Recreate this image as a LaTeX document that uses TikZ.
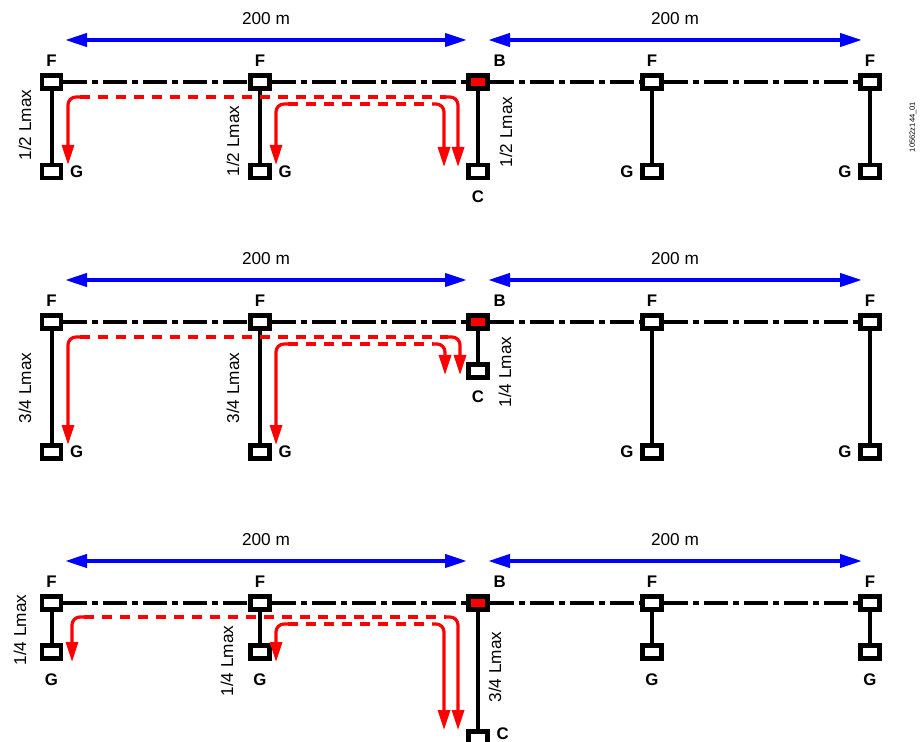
\documentclass[tikz,border=0pt]{standalone}
\usepackage{fontspec}
\setmainfont{Liberation Sans}
\usetikzlibrary{arrows.meta,positioning,calc}
\definecolor{spanblue}{HTML}{0000FF}
\definecolor{flowred}{HTML}{FF0000}

\begin{document}
\begin{tikzpicture}[
  x=0.5pt, y=-0.5pt,
  font=\fontsize{8.6pt}{10pt}\selectfont,
  dev/.style={draw, line width=2.1pt, fill=white, minimum width=9.5pt,
              minimum height=6.5pt, inner sep=0pt},
  master/.style={dev, fill=flowred},
  tag/.style={font=\fontsize{8.4pt}{10pt}\selectfont\bfseries},
  bus/.style={line width=2pt, dash pattern=on 12pt off 2.5pt on 3pt off 2.5pt},
  drop/.style={line width=2pt},
  span/.style={{Triangle[length=11pt,width=6.5pt]}-{Triangle[length=11pt,width=6.5pt]},
               line width=2pt, draw=spanblue},
  flowdash/.style={draw=flowred, line width=1.6pt, dash pattern=on 5pt off 4pt},
  flowend/.style={draw=flowred, line width=1.6pt, rounded corners=4pt,
                  -{Triangle[length=10pt,width=6pt]}},
  len/.style={rotate=90}
]
\useasboundingbox (0,0) rectangle (924,742);

% row 1: 1/2 Lmax
\node[dev, label={[tag]above:F}] (f11) at (51.5,82) {};
\node[dev, label={[tag]above:F}] (f12) at (260,82) {};
\node[master, label={[tag]above right:B}] (b1) at (478,82) {};
\node[dev, label={[tag]above:F}] (f13) at (652,82) {};
\node[dev, label={[tag]above:F}] (f14) at (870,82) {};
\node[dev, label={[tag]right:G}] (g11) at (51.5,171.5) {};
\node[dev, label={[tag]right:G}] (g12) at (260,171.5) {};
\node[dev, label={[tag,label distance=2pt]below:C}] (c1) at (478,171.5) {};
\node[dev, label={[tag]left:G}] (g13) at (652,171.5) {};
\node[dev, label={[tag]left:G}] (g14) at (870,171.5) {};
\draw[bus] (f11) -- (f12) (f12) -- (b1) (b1) -- (f13) (f13) -- (f14);
\draw[drop] (f11) -- (g11) (f12) -- (g12) (b1) -- (c1) (f13) -- (g13) (f14) -- (g14);
\node[len] (l11) at (25,125) {1/2 Lmax};
\node[len] (l12) at (233,141) {1/2 Lmax};
\node[len] (l1b) at (506,132) {1/2 Lmax};
\coordinate (d1a) at (65,40);
\coordinate (d1b) at (467,40);
\coordinate (d1c) at (488,40);
\coordinate (d1d) at (862,40);
\draw[span] (d1a) -- node[above=3.5pt] {200 m} (d1b);
\draw[span] (d1c) -- node[above=3.5pt] {200 m} (d1d);

% row 2: 3/4 Lmax
\node[dev, label={[tag]above:F}] (f21) at (51.5,322) {};
\node[dev, label={[tag]above:F}] (f22) at (260,322) {};
\node[master, label={[tag]above right:B}] (b2) at (478,322) {};
\node[dev, label={[tag]above:F}] (f23) at (652,322) {};
\node[dev, label={[tag]above:F}] (f24) at (870,322) {};
\node[dev, label={[tag]right:G}] (g21) at (51.5,452) {};
\node[dev, label={[tag]right:G}] (g22) at (260,452) {};
\node[dev, label={[tag,label distance=2pt]below:C}] (c2) at (478,371) {};
\node[dev, label={[tag]left:G}] (g23) at (652,452) {};
\node[dev, label={[tag]left:G}] (g24) at (870,452) {};
\draw[bus] (f21) -- (f22) (f22) -- (b2) (b2) -- (f23) (f23) -- (f24);
\draw[drop] (f21) -- (g21) (f22) -- (g22) (b2) -- (c2) (f23) -- (g23) (f24) -- (g24);
\node[len] (l21) at (25,388) {3/4 Lmax};
\node[len] (l22) at (233,388) {3/4 Lmax};
\node[len] (l2b) at (505,372) {1/4 Lmax};
\coordinate (d2a) at (65,280);
\coordinate (d2b) at (467,280);
\coordinate (d2c) at (488,280);
\coordinate (d2d) at (862,280);
\draw[span] (d2a) -- node[above=3.5pt] {200 m} (d2b);
\draw[span] (d2c) -- node[above=3.5pt] {200 m} (d2d);

% row 3: 1/4 Lmax
\node[dev, label={[tag]above:F}] (f31) at (51.5,603) {};
\node[dev, label={[tag]above:F}] (f32) at (260,603) {};
\node[master, label={[tag]above right:B}] (b3) at (478,603) {};
\node[dev, label={[tag]above:F}] (f33) at (652,603) {};
\node[dev, label={[tag]above:F}] (f34) at (870,603) {};
\node[dev, label={[tag,label distance=3pt]below:G}] (g31) at (51.5,652) {};
\node[dev, label={[tag,label distance=3pt]below:G}] (g32) at (260,652) {};
\node[dev, label={[tag,yshift=2.2pt]right:C}] (c3) at (478,738) {};
\node[dev, label={[tag,label distance=3pt]below:G}] (g33) at (652,652) {};
\node[dev, label={[tag,label distance=3pt]below:G}] (g34) at (870,652) {};
\draw[bus] (f31) -- (f32) (f32) -- (b3) (b3) -- (f33) (f33) -- (f34);
\draw[drop] (f31) -- (g31) (f32) -- (g32) (b3) -- (c3) (f33) -- (g33) (f34) -- (g34);
\node[len] (l31) at (20,630) {1/4 Lmax};
\node[len] (l32) at (227,661) {1/4 Lmax};
\node[len] (l3b) at (495,667) {3/4 Lmax};
\coordinate (d3a) at (65,561);
\coordinate (d3b) at (467,561);
\coordinate (d3c) at (488,561);
\coordinate (d3d) at (862,561);
\draw[span] (d3a) -- node[above=3.5pt] {200 m} (d3b);
\draw[span] (d3c) -- node[above=3.5pt] {200 m} (d3d);

% red flows from B to the G ends
\foreach \yy/\xl/\tl/\xr/\tr in {97/68/165/458/167, 104/276/165/444/167,
    337/68/445/460/375, 344/276/445/445/375,
    617/72/662/458/730, 624/276/662/444/730}{
  \coordinate (hl) at (\xl+12,\yy);
  \coordinate (hr) at (\xr-12,\yy);
  \draw[flowdash] (hl) -- (hr);
  \draw[flowend] (hl) -| (\xl,\tl);
  \draw[flowend] (hr) -| (\xr,\tr);
}

\node[len, font=\fontsize{3.8pt}{4.5pt}\selectfont] (ref) at (913,127) {10562z144\_01};
\end{tikzpicture}
\end{document}
